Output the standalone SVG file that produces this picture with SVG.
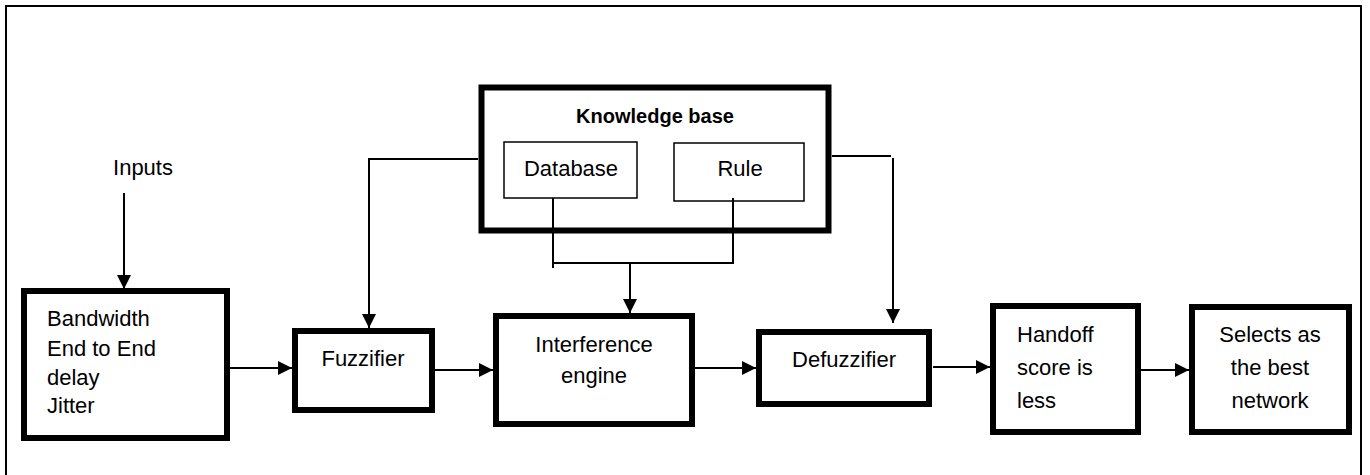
<svg xmlns="http://www.w3.org/2000/svg" width="1370" height="475" viewBox="0 0 1370 475">
<defs>
<marker id="ah" viewBox="0 0 10 10" refX="10" refY="5" markerWidth="14" markerHeight="15" markerUnits="userSpaceOnUse" orient="auto">
<path d="M0,0 L10,5 L0,10 Z" fill="#000"/>
</marker>
<style>
.thick{fill:#fff;stroke:#000;stroke-width:6}
.thin{fill:#fff;stroke:#000;stroke-width:1.5}
.ln{fill:none;stroke:#000;stroke-width:2}
.t{font-family:"Liberation Sans",Arial,sans-serif;font-size:22px;fill:#000}
.c{text-anchor:middle}
.b{font-weight:bold;font-size:20px}
</style>
</defs>
<rect x="0" y="0" width="1370" height="475" fill="#fff"/>
<path d="M6,480 L6,6 L1361,6 L1361,480" fill="none" stroke="#000" stroke-width="2"/>
<text class="t c" x="143" y="175">Inputs</text>
<g id="inputs">
<rect class="thick" x="24" y="291" width="203" height="147"/>
<text class="t" x="47" y="326">Bandwidth</text>
<text class="t" x="47" y="356">End to End</text>
<text class="t" x="47" y="385">delay</text>
<text class="t" x="47" y="413">Jitter</text>
</g>
<g id="fuzzifier">
<rect class="thick" x="295" y="331" width="137" height="79"/>
<text class="t c" x="363" y="366">Fuzzifier</text>
</g>
<g id="knowledge">
<rect class="thick" x="481.5" y="87.5" width="347" height="143" stroke-width="7"/>
<text class="t c b" x="655" y="123">Knowledge base</text>
</g>
<g id="database">
<rect class="thin" x="504" y="142" width="133" height="56"/>
<text class="t c" x="571" y="176">Database</text>
</g>
<g id="rule">
<rect class="thin" x="674" y="143" width="130" height="58"/>
<text class="t c" x="740" y="176">Rule</text>
</g>
<g id="interference">
<rect class="thick" x="496" y="316" width="196" height="108"/>
<text class="t c" x="594" y="352">Interference</text>
<text class="t c" x="594" y="383">engine</text>
</g>
<g id="defuzzifier">
<rect class="thick" x="759" y="332" width="170" height="72"/>
<text class="t c" x="844" y="367">Defuzzifier</text>
</g>
<g id="handoff">
<rect class="thick" x="993" y="306" width="145" height="126"/>
<text class="t" x="1017" y="342">Handoff</text>
<text class="t" x="1017" y="375">score is</text>
<text class="t" x="1017" y="408">less</text>
</g>
<g id="selects">
<rect class="thick" x="1192" y="307" width="157" height="125"/>
<text class="t c" x="1270" y="342">Selects as</text>
<text class="t c" x="1270" y="375">the best</text>
<text class="t c" x="1270" y="408">network</text>
</g>
<g id="connectors">
<line class="ln" x1="124" y1="193" x2="124" y2="289" marker-end="url(#ah)"/>
<line class="ln" x1="230" y1="368" x2="292" y2="368" marker-end="url(#ah)"/>
<path class="ln" d="M478,159 L369,159 L369,328" marker-end="url(#ah)"/>
<line class="ln" x1="435" y1="370" x2="493" y2="370" marker-end="url(#ah)"/>
<path class="ln" d="M553,198 L553,268 M553,263 L733,263 L733,198"/>
<line class="ln" x1="630" y1="263" x2="630" y2="313" marker-end="url(#ah)"/>
<path class="ln" d="M832,156 L891,156 M893,158 L893,323" marker-end="url(#ah)"/>
<line class="ln" x1="695" y1="368" x2="756" y2="368" marker-end="url(#ah)"/>
<line class="ln" x1="933" y1="367" x2="990" y2="367" marker-end="url(#ah)"/>
<line class="ln" x1="1141" y1="370" x2="1189" y2="370" marker-end="url(#ah)"/>
</g>
</svg>
